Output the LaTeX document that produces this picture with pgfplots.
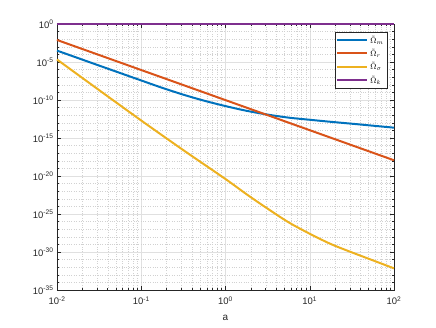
\documentclass[border=0pt]{standalone}
\usepackage{pgfplots}
\pgfplotsset{compat=1.18}
\usepackage{fontspec}
\setmainfont{Liberation Sans}

\definecolor{mblue}{rgb}{0,0.447,0.741}
\definecolor{mred}{rgb}{0.85,0.325,0.098}
\definecolor{myellow}{rgb}{0.929,0.694,0.125}
\definecolor{mpurple}{rgb}{0.494,0.184,0.556}
\definecolor{axgray}{rgb}{0.15,0.15,0.15}

\begin{document}
\begin{tikzpicture}[x=1bp,y=1bp]
\path[use as bounding box] (0,0) rectangle (436,327);
\begin{axis}[
    at={(57bp,37bp)}, anchor=south west,
    scale only axis, width=337bp, height=266bp,
    xmode=log, ymode=log,
    xmin=1e-2, xmax=1e2, ymin=1e-35, ymax=1,
    xtick={1e-2,1e-1,1,1e1,1e2},
    xticklabels={10\textsuperscript{-2},10\textsuperscript{-1},10\textsuperscript{0},10\textsuperscript{1},10\textsuperscript{2}},
    minor xtick={2e-2,3e-2,4e-2,5e-2,6e-2,7e-2,8e-2,9e-2,
                 2e-1,3e-1,4e-1,5e-1,6e-1,7e-1,8e-1,9e-1,
                 2,3,4,5,6,7,8,9,20,30,40,50,60,70,80,90},
    ytick={1e-35,1e-30,1e-25,1e-20,1e-15,1e-10,1e-5,1},
    yticklabels={10\textsuperscript{-35},10\textsuperscript{-30},10\textsuperscript{-25},10\textsuperscript{-20},10\textsuperscript{-15},10\textsuperscript{-10},10\textsuperscript{-5},10\textsuperscript{0}},
    minor ytick={1e-34,1e-33,1e-32,1e-31,1e-29,1e-28,1e-27,1e-26,1e-24,1e-23,1e-22,1e-21,
                 1e-19,1e-18,1e-17,1e-16,1e-14,1e-13,1e-12,1e-11,1e-9,1e-8,1e-7,1e-6,
                 1e-4,1e-3,1e-2,1e-1},
    grid=both,
    major grid style={black!12, line width=0.5pt},
    minor grid style={black!18, dotted, line width=0.4pt},
    tick align=inside,
    major tick length=4bp, minor tick length=2.2bp,
    axis line style={axgray, line width=0.5pt},
    every tick/.style={axgray, line width=0.5pt},
    ticklabel style={font=\fontsize{9.5}{11}\selectfont, text=axgray},
    xticklabel style={yshift=-3bp},
    xlabel={a},
    xlabel style={font=\fontsize{10}{12}\selectfont, text=axgray, yshift=-3bp},
    clip=false,
    legend style={at={(0.98,0.97)}, anchor=north east, draw=axgray,
        fill=white, font=\footnotesize, row sep=0.5pt, inner sep=1.5pt},
    legend cell align=left,
    legend image code/.code={\draw[#1, line width=2pt] (0bp,0bp) -- (30bp,0bp);},
]
\addplot[mblue, line width=2pt, smooth] coordinates {
    (0.01,3.162e-4) (0.03162,3.388e-6) (0.1,3.715e-8) (0.1778,3.981e-9)
    (0.3162,5.012e-10) (0.5623,7.943e-11) (1,1.585e-11) (1.778,3.802e-12)
    (3.162,1.202e-12) (5.623,4.786e-13) (10,2.512e-13) (17.78,1.349e-13)
    (31.62,7.586e-14) (56.23,4.169e-14) (100,2.291e-14)
};
\addplot[mred, line width=2pt] coordinates {
    (0.01,7.943e-3) (1,9.66e-11) (100,1.175e-18)
};
\addplot[myellow, line width=2pt, smooth] coordinates {
    (0.01,2.138e-5) (0.03162,1.995e-9) (0.1,1.995e-13) (0.3162,2.512e-17)
    (1,3.981e-21) (1.778,3.981e-23) (3.162,5.012e-25) (5.623,7.943e-27)
    (10,2.512e-28) (17.78,1.122e-29) (31.62,8.913e-31) (56.23,7.943e-32)
    (100,7.079e-33)
};
\addplot[mpurple, line width=2.4pt] coordinates {
    (0.01,1) (100,1)
};
\legend{$\tilde{\Omega}_m$, $\tilde{\Omega}_r$, $\tilde{\Omega}_\sigma$, $\tilde{\Omega}_k$}
\end{axis}
\end{tikzpicture}
\end{document}
